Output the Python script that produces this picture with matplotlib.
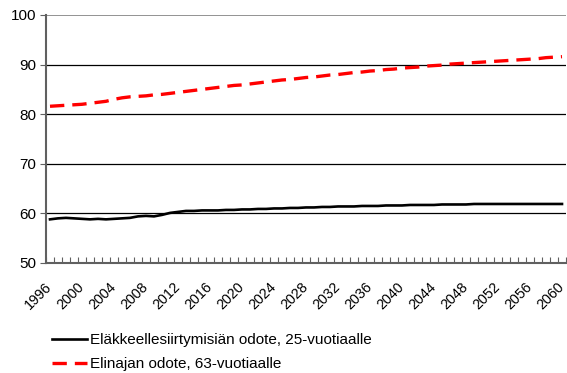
import numpy as np
import matplotlib
matplotlib.use("Agg")
import matplotlib.pyplot as plt
import matplotlib.transforms as mtransforms

plt.rcParams['font.family'] = ['Liberation Sans', 'DejaVu Sans']

years = list(range(1996, 2061))
tick_years = list(range(1996, 2061, 4))

# expected years of working life until retirement, 25-year-olds
retire = [58.8, 59.0, 59.1, 59.0, 58.9, 58.8, 58.9, 58.8, 58.9, 59.0,
          59.1, 59.4, 59.5, 59.4, 59.7, 60.1, 60.3, 60.5, 60.5, 60.6,
          60.6, 60.6, 60.7, 60.7, 60.8, 60.8, 60.9, 60.9, 61.0, 61.0,
          61.1, 61.1, 61.2, 61.2, 61.3, 61.3, 61.4, 61.4, 61.4, 61.5,
          61.5, 61.5, 61.6, 61.6, 61.6, 61.7, 61.7, 61.7, 61.7, 61.8,
          61.8, 61.8, 61.8, 61.9, 61.9, 61.9, 61.9, 61.9, 61.9, 61.9,
          61.9, 61.9, 61.9, 61.9, 61.9]

# life expectancy, 63-year-olds
life = [81.6, 81.7, 81.8, 81.9, 82.0, 82.2, 82.4, 82.6, 83.0, 83.3,
        83.5, 83.6, 83.7, 83.9, 84.0, 84.2, 84.4, 84.6, 84.8, 85.0,
        85.2, 85.4, 85.6, 85.8, 85.9, 86.1, 86.3, 86.5, 86.7, 86.9,
        87.0, 87.2, 87.4, 87.5, 87.7, 87.9, 88.0, 88.2, 88.4, 88.5,
        88.7, 88.8, 89.0, 89.1, 89.3, 89.4, 89.5, 89.7, 89.8, 89.9,
        90.1, 90.2, 90.3, 90.4, 90.5, 90.6, 90.7, 90.8, 90.9, 91.0,
        91.1, 91.2, 91.4, 91.5, 91.6]

labels = ['Eläkkeellesiirtymisiän odote, 25-vuotiaalle',
          'Elinajan odote, 63-vuotiaalle']

fig = plt.figure(figsize=(5.67, 3.73), dpi=100)
ax = fig.add_axes([46 / 567, 1 - 263 / 373, 520 / 567, 248 / 373])

x = np.arange(len(years))
ax.plot(x, retire, color='black', lw=1.9, label=labels[0])
ax.plot(x, life, color='#ff0000', lw=2.4, dashes=(4.3, 2.4), label=labels[1])

ax.set_xlim(-0.5, len(years) - 0.5)
ax.set_ylim(50, 100)
ax.set_yticks(range(50, 101, 10))
for v in range(60, 100, 10):
    ax.axhline(v, color='black', lw=0.9, zorder=0)
ax.axhline(100, color='#808080', lw=1.2, zorder=0)

# category axis: tick marks between years, labels every fourth year
ax.set_xticks(np.arange(len(years) + 1) - 0.5, minor=True)
ax.set_xticks([years.index(y) for y in tick_years])
ax.set_xticklabels([str(y) for y in tick_years], rotation=45,
                   ha='right', rotation_mode='anchor')
ax.tick_params(axis='x', which='major', length=0, pad=12, labelsize=10.3)
ax.tick_params(axis='x', which='minor', direction='in', length=4,
               color='#606060', width=0.8)
ax.tick_params(axis='y', length=4, color='#606060', labelsize=11, pad=3)

shift = mtransforms.ScaledTranslation(-5 / 100, 0, fig.dpi_scale_trans)
for lab in ax.get_xticklabels():
    lab.set_transform(lab.get_transform() + shift)

for side in ('top', 'right'):
    ax.spines[side].set_visible(False)
for side in ('left', 'bottom'):
    ax.spines[side].set_color('#606060')
    ax.spines[side].set_linewidth(1.5)

fig.legend(loc='upper left', bbox_to_anchor=(46 / 567, 1 - 327 / 373),
           frameon=False, fontsize=11, handlelength=2.3,
           handletextpad=0.2, labelspacing=0.65, borderaxespad=0)

fig.savefig('out.png', dpi=100)
